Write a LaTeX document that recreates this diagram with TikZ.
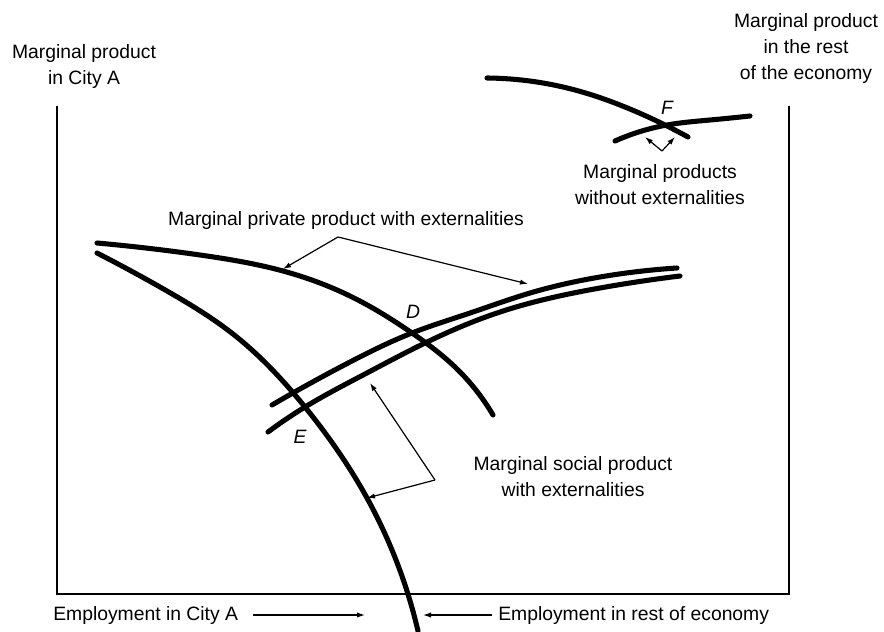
\documentclass[tikz,border=0pt]{standalone}
\usepackage{fontspec}
\setmainfont{Liberation Sans}
\usetikzlibrary{arrows.meta,hobby}
\begin{document}
\begin{tikzpicture}[x=0.75pt,y=-0.75pt,
  curve/.style={line width=3.8pt,line cap=round,line join=round,use Hobby shortcut},
  axis/.style={line width=1.5pt},
  pointer/.style={line width=0.9pt,-{Latex[length=6pt,width=4pt]}},
  lbl/.style={font=\fontsize{14.5}{19.5}\selectfont,align=center,inner sep=0pt},
  pt/.style={font=\fontsize{14.5}{17}\selectfont\itshape,inner sep=0pt}]
\useasboundingbox (0,0) rectangle (884,631);
% axes
\draw[axis] (57,106) -- (57,594) -- (789,594) -- (789,106);
% axis labels
\node[lbl] (yl) at (84,67) {Marginal product\\in City A};
\node[lbl] (yr) at (806,49) {Marginal product\\in the rest\\of the economy};
\node[lbl,anchor=west] (xl) at (53,615) {Employment in City A};
\node[lbl,anchor=west] (xr) at (498,615) {Employment in rest of economy};
\coordinate (xla) at (253,615); \coordinate (xlb) at (365,615);
\coordinate (xra) at (492,615); \coordinate (xrb) at (423,615);
\draw[pointer] (xla) -- (xlb);
\draw[pointer] (xra) -- (xrb);
% curves with externalities
\draw[curve] (97,243) .. (200,255) .. (283,271) .. (350,296) .. (412,333) .. (455,367) .. (493,415);
\draw[curve] (97,253) .. (167,291) .. (233,334) .. (305,407) .. (367,498) .. (418,631);
\draw[curve] (272,405) .. (350,362) .. (412,333) .. (470,313) .. (530,293) .. (600,277) .. (677,268);
\draw[curve] (268,432) .. (305,407) .. (365,374) .. (425,343) .. (500,312) .. (600,288) .. (680,276);
% curves without externalities
\draw[curve] (487,78) .. (575,90) .. (620,105) .. (667,126) .. (688,137);
\draw[curve] (615,141) .. (667,125) .. (710,120) .. (750,116);
% point labels
\node[pt] (F) at (667,108) {F};
\node[pt] (D) at (413,312) {D};
\node[pt] (E) at (300,437) {E};
% annotations
\node[lbl] (priv) at (346,220) {Marginal private product with externalities};
\coordinate (pv) at (338,237);
\coordinate (pa) at (283,269); \coordinate (pb) at (528,284);
\draw[pointer] (pv) -- (pa);
\draw[pointer] (pv) -- (pb);
\node[lbl] (soc) at (573,477) {Marginal social product\\with externalities};
\coordinate (sv) at (435,480);
\coordinate (sa) at (370,383); \coordinate (sb) at (367,498);
\draw[pointer] (sv) -- (sa);
\draw[pointer] (sv) -- (sb);
\node[lbl] (wo) at (660,185) {Marginal products\\without externalities};
\coordinate (fv) at (662,151);
\coordinate (fa) at (645,137); \coordinate (fb) at (675,137);
\draw[pointer] (fv) -- (fa);
\draw[pointer] (fv) -- (fb);
\end{tikzpicture}
\end{document}
